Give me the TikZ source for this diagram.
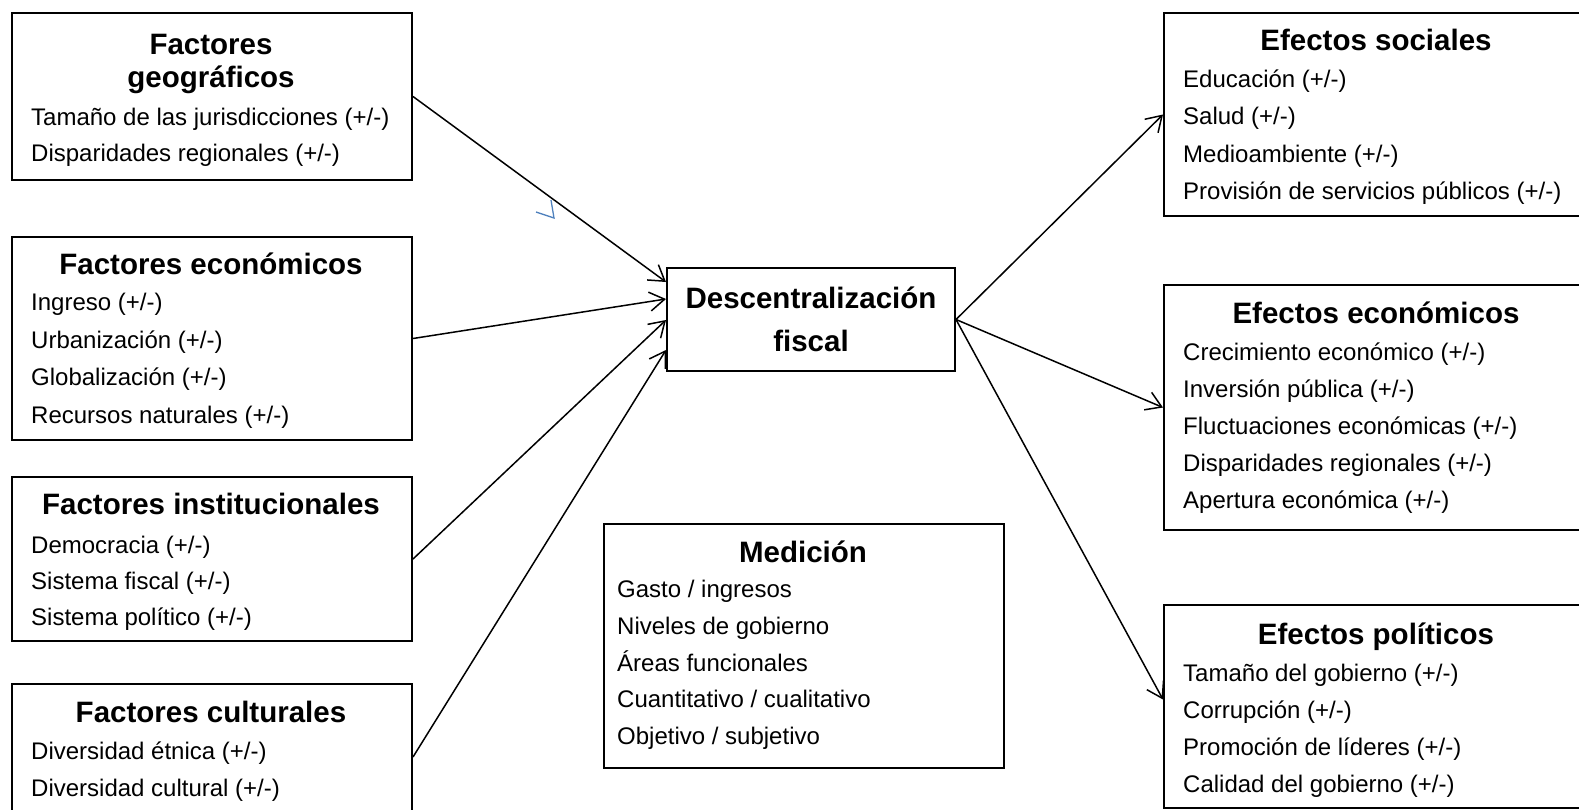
\documentclass[tikz,border=0pt]{standalone}
\usepackage{fontspec}
\setmainfont{Liberation Sans}
\usetikzlibrary{arrows.meta}
\definecolor{markblue}{HTML}{4F81BD}
\newcommand{\itemfnt}{\fontsize{24}{29}\selectfont}
\newcommand{\headfnt}{\fontsize{29.5}{32.5}\selectfont\bfseries}
\tikzset{
    block/.style={draw, line width=2pt, anchor=north west, inner sep=0pt},
    head/.style={font=\headfnt, inner sep=0pt, text height=21pt, text depth=0pt},
    entry/.style={font=\itemfnt, anchor=west, inner sep=0pt, text height=17pt, text depth=0pt},
    link/.style={line width=1.5pt, -{Straight Barb[length=15pt,width=19pt]}}
}
\begin{document}
\begin{tikzpicture}[x=1pt,y=-1pt]
        \clip (0,0) rectangle (1579,809);
        % factores (izquierda)
        \node[block, minimum width=400pt, minimum height=167pt] (geo) at (11,12) {};
        \node[block, minimum width=400pt, minimum height=203pt] (econ) at (11,236) {};
        \node[block, minimum width=400pt, minimum height=164pt] (inst) at (11,476) {};
        \node[block, minimum width=400pt, minimum height=146pt] (cult) at (11,683) {};
        \node[font=\headfnt, align=center, inner sep=0pt] (geoh) at (211,64) {Factores\\geográficos};
        \node[head] (econh) at (211,264) {Factores económicos};
        \node[head] (insth) at (211,504) {Factores institucionales};
        \node[head] (culth) at (211,712) {Factores culturales};
        \foreach \t [count=\i] in {Tamaño de las jurisdicciones (+/-), Disparidades regionales (+/-)}
            \node[entry] (geo\i) at ({31},{117+36*(\i-1)}) {\t};
        \foreach \t [count=\i] in {Ingreso (+/-), Urbanización (+/-), Globalización (+/-), Recursos naturales (+/-)}
            \node[entry] (econ\i) at ({31},{302+37.5*(\i-1)}) {\t};
        \foreach \t [count=\i] in {Democracia (+/-), Sistema fiscal (+/-), Sistema político (+/-)}
            \node[entry] (inst\i) at ({31},{545+36*(\i-1)}) {\t};
        \foreach \t [count=\i] in {Diversidad étnica (+/-), Diversidad cultural (+/-)}
            \node[entry] (cult\i) at ({31},{751+37*(\i-1)}) {\t};
        % centro
        \node[draw, line width=2pt, minimum width=288pt, minimum height=103pt, align=center,
              font=\fontsize{29.5}{43}\selectfont\bfseries] (desc) at (811,319.5) {Descentralización\\fiscal};
        \node[block, minimum width=400pt, minimum height=244pt] (med) at (603,523) {};
        \node[head] (medh) at (803,552) {Medición};
        \foreach \t [count=\i] in {Gasto / ingresos, Niveles de gobierno, Áreas funcionales, Cuantitativo / cualitativo, Objetivo / subjetivo}
            \node[entry] (med\i) at ({617},{589+36.8*(\i-1)}) {\t};
        % efectos (derecha)
        \node[block, minimum width=427pt, minimum height=203pt] (soc) at (1163,12) {};
        \node[block, minimum width=427pt, minimum height=245pt] (ecoef) at (1163,284) {};
        \node[block, minimum width=427pt, minimum height=203pt] (pol) at (1163,604) {};
        \node[head] (soch) at (1376,40) {Efectos sociales};
        \node[head] (ecoefh) at (1376,313) {Efectos económicos};
        \node[head] (polh) at (1376,634) {Efectos políticos};
        \foreach \t [count=\i] in {Educación (+/-), Salud (+/-), Medioambiente (+/-), Provisión de servicios públicos (+/-)}
            \node[entry] (soc\i) at ({1183},{79+37.3*(\i-1)}) {\t};
        \foreach \t [count=\i] in {Crecimiento económico (+/-), Inversión pública (+/-), Fluctuaciones económicas (+/-), Disparidades regionales (+/-), Apertura económica (+/-)}
            \node[entry] (ecoef\i) at ({1183},{352+37*(\i-1)}) {\t};
        \foreach \t [count=\i] in {Tamaño del gobierno (+/-), Corrupción (+/-), Promoción de líderes (+/-), Calidad del gobierno (+/-)}
            \node[entry] (pol\i) at ({1183},{673+37*(\i-1)}) {\t};
        % flechas
        \draw[link] (geo.east) -- ([yshift=37.5pt]desc.west);
        \draw[link] (econ.east) -- ([yshift=20.5pt]desc.west);
        \draw[link] (inst.east) -- ([yshift=-0.5pt]desc.west);
        \draw[link] (cult.east) -- ([yshift=-30.5pt]desc.west);
        \draw[link] (desc.east) -- (soc.west);
        \draw[link] (desc.east) -- (ecoef.west);
        \draw[link] (desc.east) -- ([yshift=7pt]pol.west);
        \draw[markblue, line width=1.3pt] (536,212) -- (554,218) -- (551,200);
\end{tikzpicture}
\end{document}
